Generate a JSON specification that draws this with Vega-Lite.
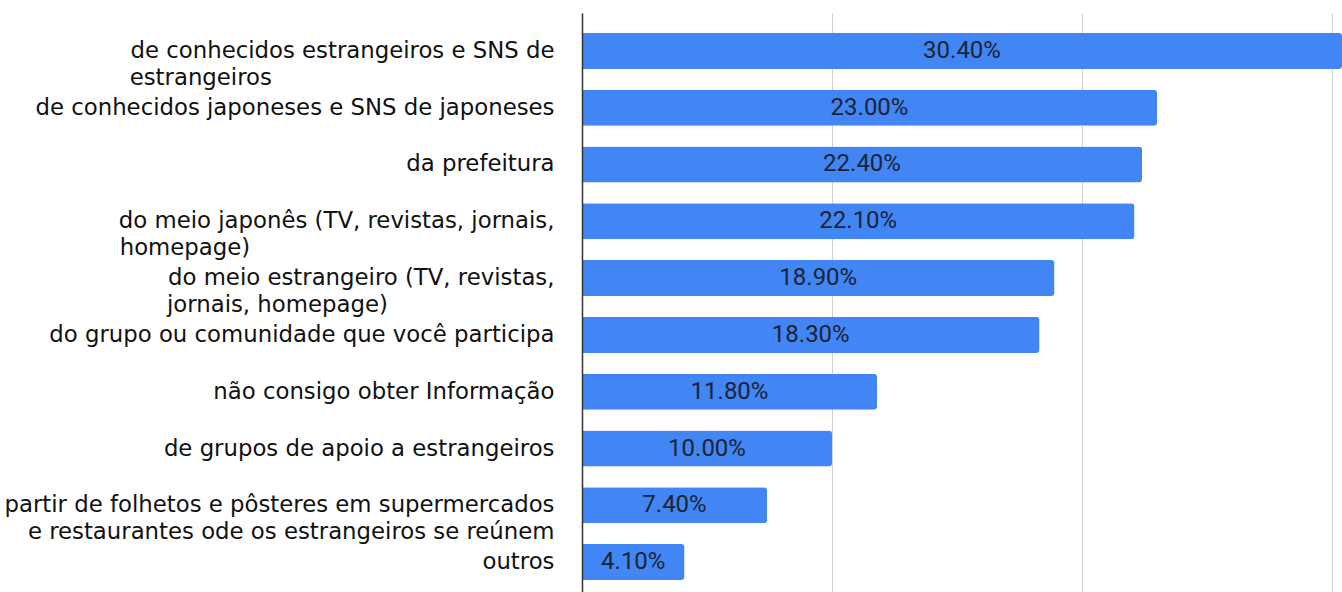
{
  "$schema": "https://vega.github.io/schema/vega-lite/v6.json",
  "width": 760,
  "height": 587,
  "autosize": {"type": "none"},
  "padding": {"left": 582, "top": 13, "right": 0, "bottom": 0},
  "background": "white",
  "config": {"view": {"stroke": null}},
  "data": {
    "values": [
      {"category": "de conhecidos estrangeiros e SNS de\nestrangeiros\u00a0\u00a0\u00a0\u00a0\u00a0\u00a0\u00a0\u00a0\u00a0\u00a0\u00a0\u00a0\u00a0\u00a0\u00a0\u00a0\u00a0\u00a0\u00a0\u00a0\u00a0\u00a0\u00a0\u00a0\u00a0\u00a0\u00a0\u00a0\u00a0\u00a0\u00a0\u00a0\u00a0\u00a0\u00a0\u00a0\u00a0\u00a0\u00a0\u200b", "value": 30.4, "label": "30.40%"},
      {"category": "de conhecidos japoneses e SNS de japoneses", "value": 23.0, "label": "23.00%"},
      {"category": "da prefeitura", "value": 22.4, "label": "22.40%"},
      {"category": "do meio japonês (TV, revistas, jornais,\nhomepage)\u00a0\u00a0\u00a0\u00a0\u00a0\u00a0\u00a0\u00a0\u00a0\u00a0\u00a0\u00a0\u00a0\u00a0\u00a0\u00a0\u00a0\u00a0\u00a0\u00a0\u00a0\u00a0\u00a0\u00a0\u00a0\u00a0\u00a0\u00a0\u00a0\u00a0\u00a0\u00a0\u00a0\u00a0\u00a0\u00a0\u00a0\u00a0\u00a0\u00a0\u00a0\u00a0\u200b", "value": 22.1, "label": "22.10%"},
      {"category": "do meio estrangeiro (TV, revistas,\njornais, homepage)\u00a0\u00a0\u00a0\u00a0\u00a0\u00a0\u00a0\u00a0\u00a0\u00a0\u00a0\u00a0\u00a0\u00a0\u00a0\u00a0\u00a0\u00a0\u00a0\u00a0\u00a0\u00a0\u00a0\u200b", "value": 18.9, "label": "18.90%"},
      {"category": "do grupo ou comunidade que você participa", "value": 18.3, "label": "18.30%"},
      {"category": "não consigo obter Informação", "value": 11.8, "label": "11.80%"},
      {"category": "de grupos de apoio a estrangeiros", "value": 10.0, "label": "10.00%"},
      {"category": "partir de folhetos e pôsteres em supermercados\ne restaurantes ode os estrangeiros se reúnem", "value": 7.4, "label": "7.40%"},
      {"category": "outros", "value": 4.1, "label": "4.10%"}
    ]
  },
  "encoding": {
    "y": {
      "field": "category",
      "type": "nominal",
      "sort": null,
      "scale": {"paddingInner": 0.366, "paddingOuter": 0.35},
      "axis": {
        "title": null,
        "ticks": false,
        "domain": true,
        "domainColor": "#333333",
        "domainWidth": 1.5,
        "labelFont": "DejaVu Sans",
        "labelFontSize": 22.8,
        "labelColor": "#111111",
        "labelPadding": 28,
        "labelLimit": 0,
        "labelLineHeight": 27,
        "labelExpr": "split(datum.label, '\\n')",
        "zindex": 2
      }
    }
  },
  "layer": [
    {
      "mark": {"type": "bar", "color": "#4285f4", "cornerRadiusEnd": 3},
      "encoding": {
        "x": {
          "field": "value",
          "type": "quantitative",
          "scale": {"domain": [0, 30.4], "nice": false, "zero": true},
          "axis": {
            "title": null,
            "labels": false,
            "ticks": false,
            "domain": false,
            "grid": true,
            "gridColor": "#d0d0d0",
            "gridWidth": 1,
            "values": [0, 10, 20, 30]
          }
        }
      }
    },
    {
      "transform": [{"calculate": "datum.value / 2", "as": "mid"}],
      "mark": {"type": "text", "font": "Roboto", "fontSize": 24, "color": "#1a2433", "align": "center", "baseline": "middle"},
      "encoding": {
        "x": {"field": "mid", "type": "quantitative"},
        "text": {"field": "label", "type": "nominal"}
      }
    }
  ]
}
